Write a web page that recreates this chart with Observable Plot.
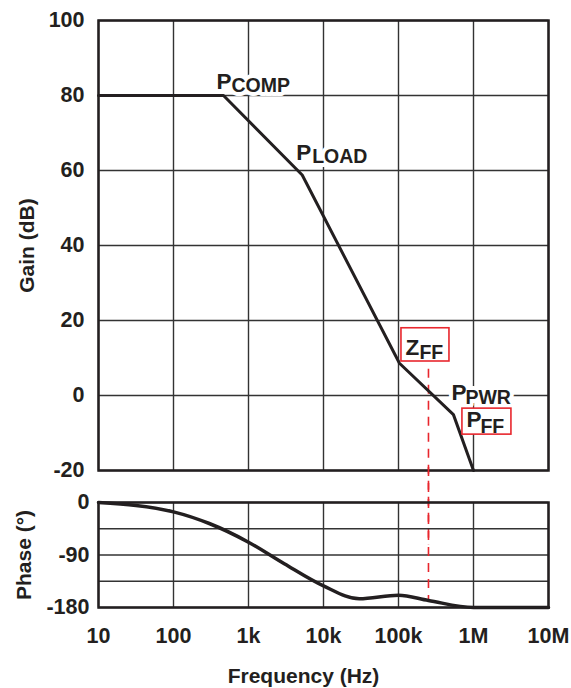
<!DOCTYPE html>
<html><head><meta charset="utf-8">
<script src="https://cdn.jsdelivr.net/npm/d3@7"></script>
<script src="https://cdn.jsdelivr.net/npm/@observablehq/plot@0.6"></script>
<style>
body{margin:0;background:#fff;}
#chart{width:571px;height:688px;position:relative;background:#fff;}
#chart svg{display:block;}
</style></head><body><div id="chart"></div>
<script>
// ---- data ----
const freqTicks = [10, 100, 1e3, 1e4, 1e5, 1e6, 1e7];
const freqLabels = ["10", "100", "1k", "10k", "100k", "1M", "10M"];
const gainTicks = [-20, 0, 20, 40, 60, 80, 100];
const gainLabels = ["-20", "0", "20", "40", "60", "80", "100"];
const phaseTicks = [0, -90, -180];
const phaseLabels = ["0", "-90", "-180"];
const phaseGrid = [0, -45, -90, -135, -180];

const gainFreq = [10, 464, 5200, 103000, 540000, 1000000];
const gainDb = [80, 80, 58.8, 8.6, -5.1, -20];

const phaseFreq = [10, 100, 300, 1000, 3000, 10000, 30000, 100000, 250000, 1000000, 3000000, 10000000];
const phaseDeg = [0, -16, -36, -68, -105, -143, -165, -159, -168, -180, -180, -180];

const zffFreq = 251000;
const zffGainTop = 7;
const zffPhase = -168;

const labelMain = ["P", "P", "Z", "P", "P"];
const labelSub = ["COMP", "LOAD", "FF", "PWR", "FF"];
const labelFreq = [464, 5200, 103000, 540000, 540000];
const labelGain = [80, 58.8, 8.6, -5.1, -5.1];
const labelBoxed = [false, false, true, false, true];

// ---- styling / layout ----
const W = 571;
const ink = "#231f20";
const red = "#e8262d";
const grid = "#333";
const font = "'Liberation Sans', Arial, Helvetica, sans-serif";
const baseStyle = {fontFamily: font, fontSize: "21.5px", fontWeight: "bold", color: ink, background: "white", overflow: "visible"};
const lookup = (ticks, labels) => d => labels[ticks.findIndex(t => Math.abs(t - d) <= 1e-9 * Math.max(1, Math.abs(t)))];

const anchors = labelMain.map((m, i) => ({main: m, sub: labelSub[i], f: labelFreq[i], g: labelGain[i], boxed: labelBoxed[i]}));
// [mainDx, mainDy, subDx, subDy] offsets from the anchor corner, in px
const offsets = [
  [-7, -7, 8, -4],
  [-6, -15, 10, -12],
  [6, -8, 20, -4.5],
  [-2, -15, 12, -11],
  [13, 12, 27, 18]
];
// [insetLeft, insetRight, insetTop, insetBottom] for boxed labels
const boxInsets = {2: [2, -50, -35, 1.75], 4: [9, -58, -6, -20]};

const boxMarks = [], haloMarks = [], textMarks = [];
const mainSize = 22.5, subSize = 19.5;
anchors.forEach((a, i) => {
  const [mdx, mdy, sdx, sdy] = offsets[i];
  if (a.boxed) {
    const [l, r, t, b] = boxInsets[i];
    boxMarks.push(Plot.rect([a], {x1: "f", x2: "f", y1: "g", y2: "g",
      insetLeft: l, insetRight: r, insetTop: t, insetBottom: b,
      fill: "white", stroke: red, strokeWidth: 1.6}));
  } else {
    haloMarks.push(Plot.text([a], {x: "f", y: "g", text: "main", textAnchor: "start", lineAnchor: "bottom",
      dx: mdx, dy: mdy, fontSize: mainSize, fill: "white", stroke: "white", strokeWidth: 8}));
    haloMarks.push(Plot.text([a], {x: "f", y: "g", text: "sub", textAnchor: "start", lineAnchor: "bottom",
      dx: sdx, dy: sdy, fontSize: subSize, fill: "white", stroke: "white", strokeWidth: 8}));
  }
  textMarks.push(Plot.text([a], {x: "f", y: "g", text: "main", textAnchor: "start", lineAnchor: "bottom",
    dx: mdx, dy: mdy, fontSize: mainSize, fill: ink}));
  textMarks.push(Plot.text([a], {x: "f", y: "g", text: "sub", textAnchor: "start", lineAnchor: "bottom",
    dx: sdx, dy: sdy, fontSize: subSize, fill: ink}));
});

const gainPts = gainFreq.map((f, i) => ({f, g: gainDb[i]}));
const phasePts = phaseFreq.map((f, i) => ({f, p: phaseDeg[i]}));

const topPlot = Plot.plot({
  width: W, height: 480,
  marginLeft: 98, marginRight: 23, marginTop: 20, marginBottom: 10,
  style: baseStyle,
  x: {type: "log", domain: [10, 1e7], axis: null},
  y: {domain: [-20, 100], ticks: gainTicks, tickFormat: lookup(gainTicks, gainLabels),
      tickSize: 0, tickPadding: 14, label: null},
  marks: [
    Plot.ruleY(gainTicks, {stroke: grid, strokeWidth: 1.4}),
    Plot.ruleX(freqTicks, {stroke: grid, strokeWidth: 1.4}),
    Plot.ruleX([zffFreq], {y1: zffGainTop, y2: -40, stroke: red, strokeWidth: 1.6, strokeDasharray: "9,7"}),
    ...haloMarks,
    Plot.line(gainPts, {x: "f", y: "g", stroke: ink, strokeWidth: 3, strokeLinejoin: "miter"}),
    ...boxMarks,
    ...textMarks,
    Plot.frame({stroke: ink, strokeWidth: 2.5}),
    Plot.text(["Gain (dB)"], {text: d => d, frameAnchor: "left", textAnchor: "middle", lineAnchor: "middle",
      dx: -71, rotate: -90, fontSize: 21, fill: ink})
  ]
});

const bottomPlot = Plot.plot({
  width: W, height: 208,
  marginLeft: 98, marginRight: 23, marginTop: 22, marginBottom: 81,
  style: baseStyle,
  x: {type: "log", domain: [10, 1e7], ticks: freqTicks, tickFormat: lookup(freqTicks, freqLabels),
      tickSize: 0, tickPadding: 20, label: null},
  y: {domain: [-180, 0], ticks: phaseTicks, tickFormat: lookup(phaseTicks, phaseLabels),
      tickSize: 0, tickPadding: 9, label: null},
  marks: [
    Plot.ruleY(phaseGrid, {stroke: grid, strokeWidth: 1.4}),
    Plot.ruleX(freqTicks, {stroke: grid, strokeWidth: 1.4}),
    Plot.ruleX([zffFreq], {y1: 60, y2: zffPhase, stroke: red, strokeWidth: 1.6, strokeDasharray: "9,7"}),
    Plot.line(phasePts, {x: "f", y: "p", curve: "monotone-x", stroke: ink, strokeWidth: 3.5}),
    Plot.frame({stroke: ink, strokeWidth: 2.5}),
    Plot.text(["Phase (°)"], {text: d => d, frameAnchor: "left", textAnchor: "middle", lineAnchor: "middle",
      dx: -74, rotate: -90, fontSize: 21, fill: ink}),
    Plot.text(["Frequency (Hz)"], {text: d => d, frameAnchor: "bottom", textAnchor: "middle", lineAnchor: "middle",
      dx: -20, dy: 69, fontSize: 21, fill: ink})
  ]
});

const root = document.getElementById("chart");
root.appendChild(topPlot);
root.appendChild(bottomPlot);
</script>
</body></html>
